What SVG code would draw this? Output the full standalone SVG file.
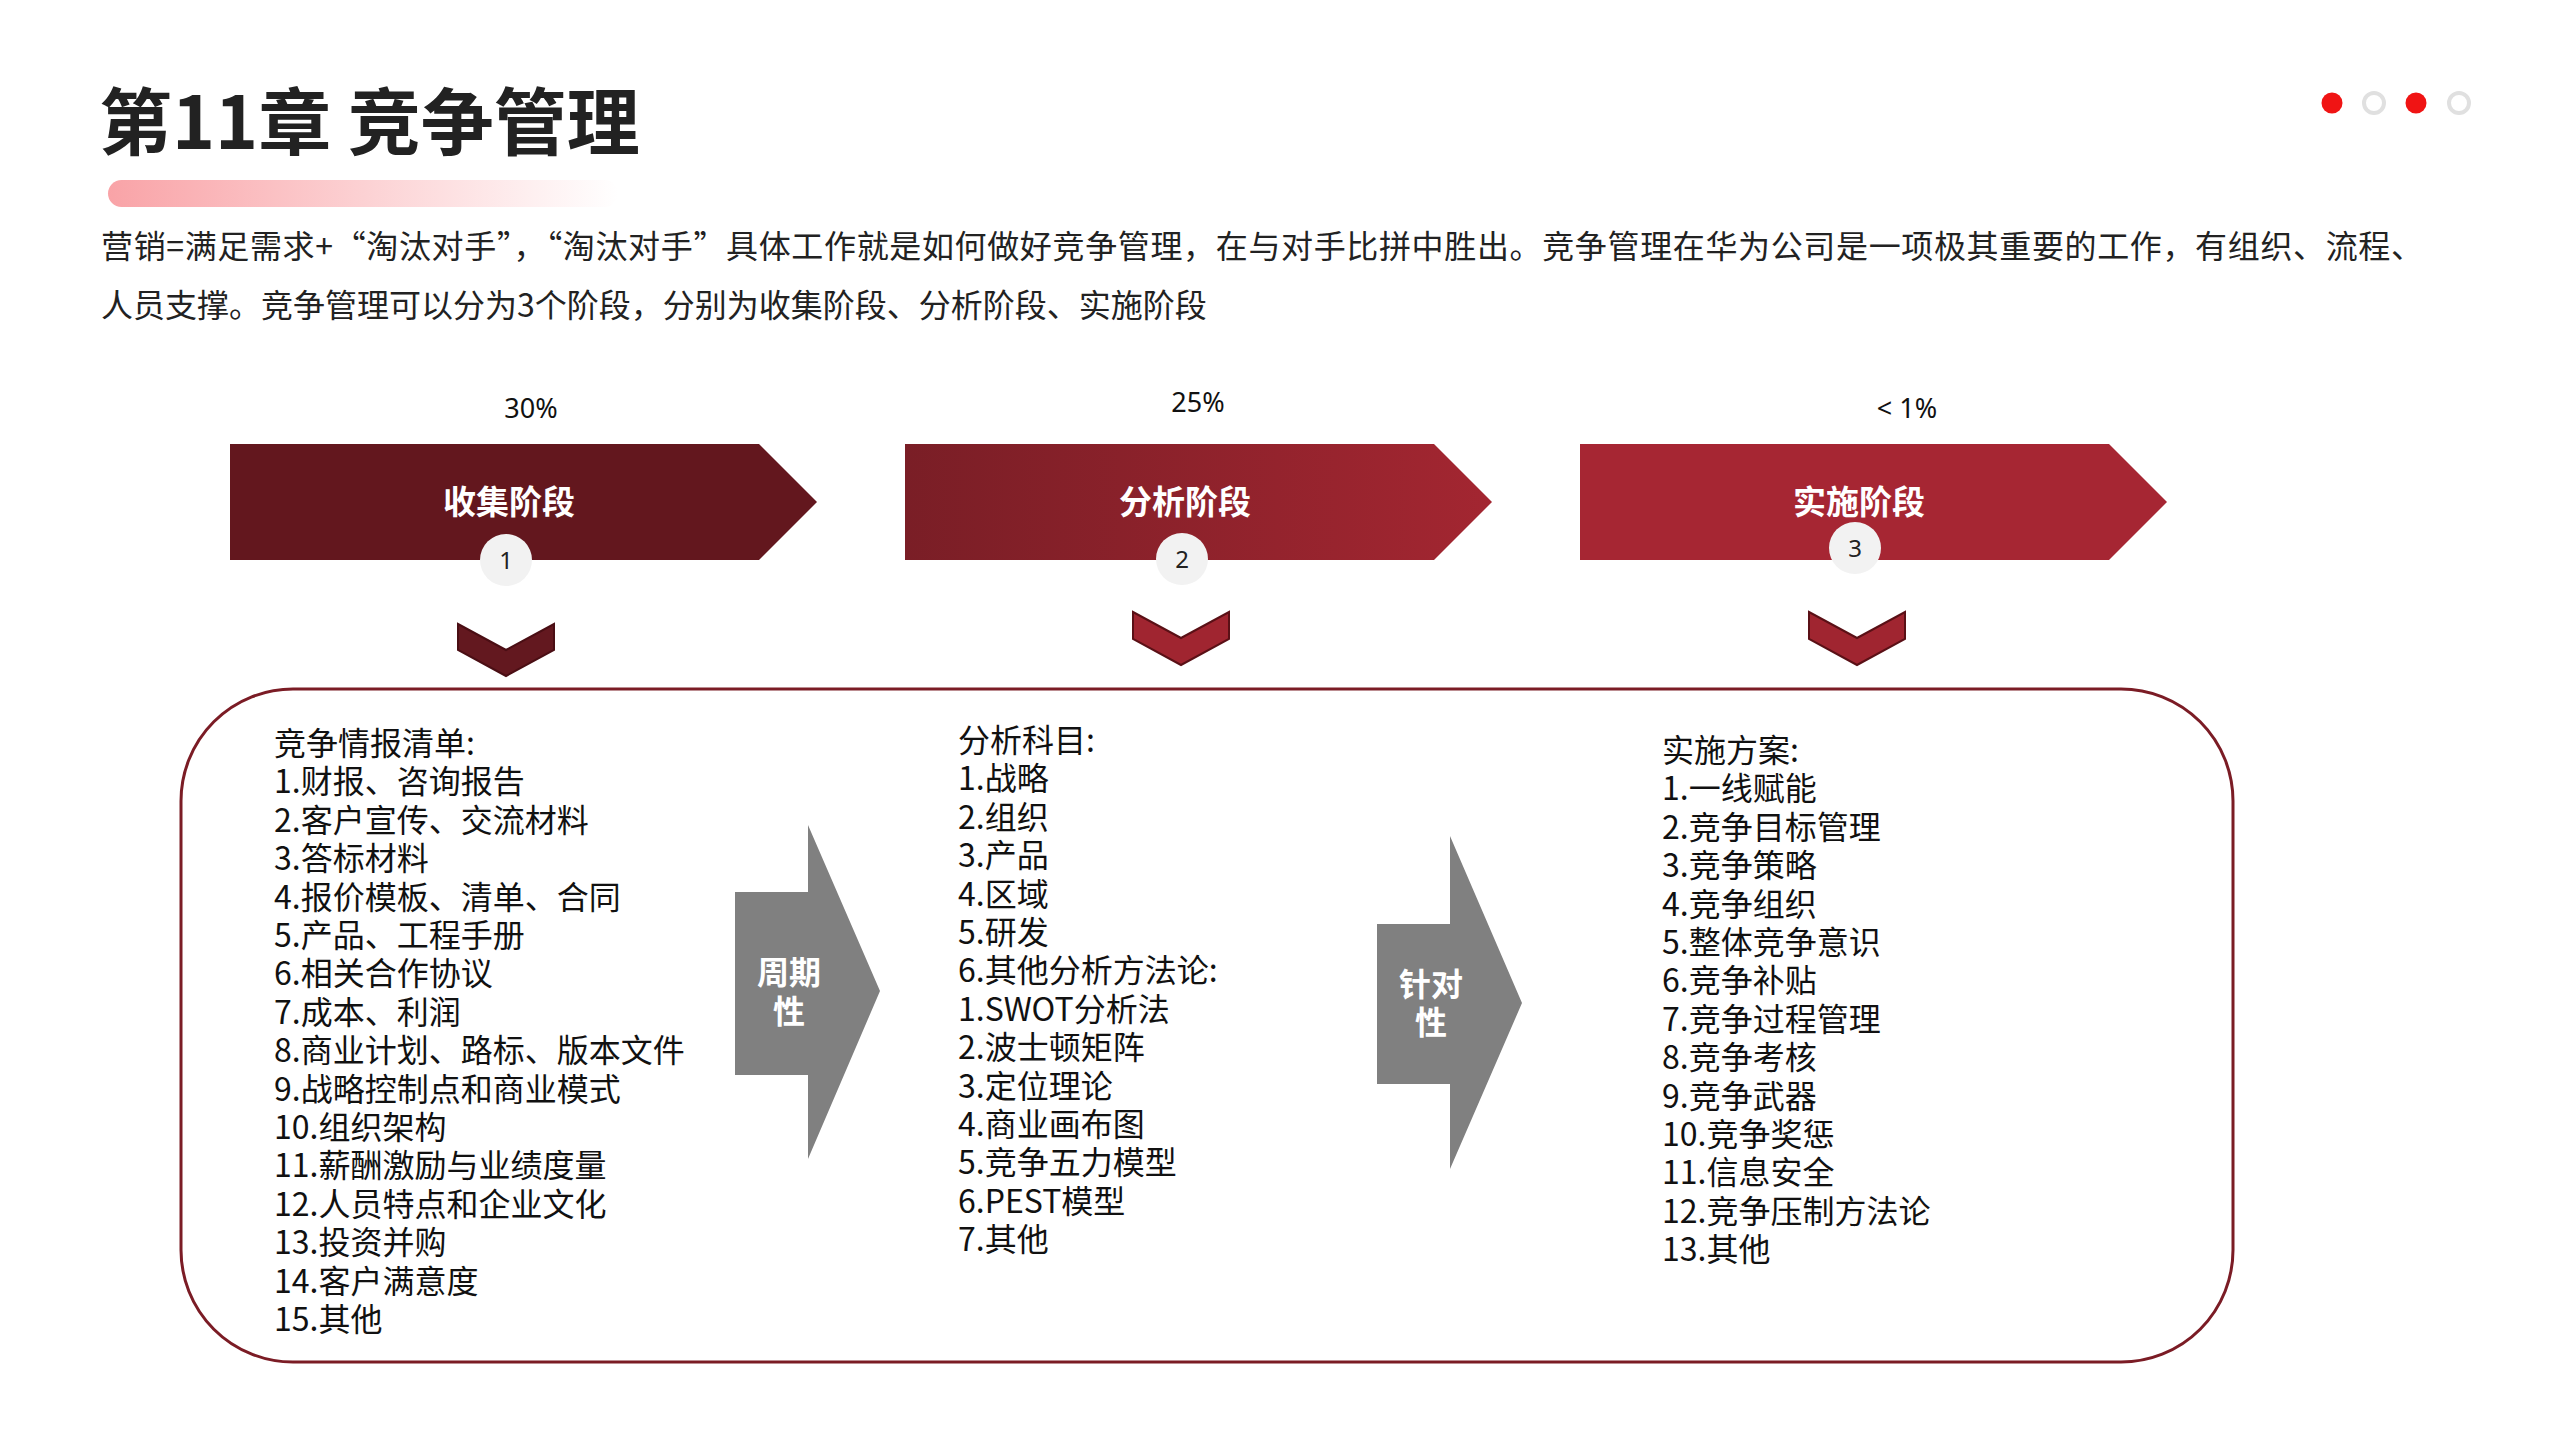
<svg xmlns="http://www.w3.org/2000/svg" width="2560" height="1440" viewBox="0 0 2560 1440">
<defs>
<linearGradient id="barGrad" x1="0" y1="0" x2="1" y2="0">
<stop offset="0" stop-color="#f9a3a7"/>
<stop offset="1" stop-color="#ffffff"/>
</linearGradient>
<linearGradient id="arrow2Grad" x1="0" y1="0" x2="1" y2="0">
<stop offset="0" stop-color="#7a1e26"/>
<stop offset="1" stop-color="#a32631"/>
</linearGradient>
<style>
.cjk{font-family:"Noto Sans CJK SC","Noto Sans",sans-serif;}
.title{font-size:73px;font-weight:700;fill:#222222;}
.sub{font-size:32px;fill:#222222;}
.pct{font-family:"Noto Sans","Noto Sans CJK SC",sans-serif;font-size:27px;fill:#111111;text-anchor:middle;}
.stage{font-size:33px;font-weight:700;fill:#ffffff;text-anchor:middle;}
.num{font-family:"Noto Sans","Noto Sans CJK SC",sans-serif;font-size:24px;fill:#222222;text-anchor:middle;}
.badge{fill:#f2f2f2;}
.list{font-size:32px;fill:#111111;}
.gray{fill:#808080;}
.gtxt{font-size:32px;font-weight:700;fill:#ffffff;text-anchor:middle;}
.chev1{fill:#63181f;stroke:#4a0e14;stroke-width:2;}
.chev2{fill:#a02530;stroke:#5a1016;stroke-width:2;}
.dotOn{fill:#f01414;}
.dotOff{fill:none;stroke:#e0e0e0;stroke-width:4;}
</style>
</defs>
<rect width="2560" height="1440" fill="#ffffff"/>

<g id="header">
<text class="cjk title" x="99" y="149">第11章 竞争管理</text>
<rect x="108" y="180" width="510" height="27" rx="13.5" fill="url(#barGrad)"/>
<circle class="dotOn" cx="2332" cy="103" r="10.5"/>
<circle class="dotOff" cx="2374" cy="103" r="10"/>
<circle class="dotOn" cx="2416" cy="103" r="10.5"/>
<circle class="dotOff" cx="2459" cy="103" r="10"/>
<text class="cjk sub" x="101" y="258" textLength="2322" lengthAdjust="spacing">营销=满足需求+“淘汰对手”，“淘汰对手”具体工作就是如何做好竞争管理，在与对手比拼中胜出。竞争管理在华为公司是一项极其重要的工作，有组织、流程、</text>
<text class="cjk sub" x="101" y="317">人员支撑。竞争管理可以分为3个阶段，分别为收集阶段、分析阶段、实施阶段</text>
</g>

<g id="stage1">
<text class="pct" x="531" y="418">30%</text>
<polygon points="230,444 759,444 817,502 759,560 230,560" fill="#63171e"/>
<text class="cjk stage" x="509" y="514">收集阶段</text>
<circle class="badge" cx="506" cy="560" r="26"/>
<text class="num" x="506" y="569">1</text>
</g>

<g id="stage2">
<text class="pct" x="1198" y="412">25%</text>
<polygon points="905,444 1434,444 1492,502 1434,560 905,560" fill="url(#arrow2Grad)"/>
<text class="cjk stage" x="1185" y="514">分析阶段</text>
<circle class="badge" cx="1182" cy="559" r="26"/>
<text class="num" x="1182" y="568">2</text>
</g>

<g id="stage3">
<text class="pct" x="1907" y="418">&lt; 1%</text>
<polygon points="1580,444 2109,444 2167,502 2109,560 1580,560" fill="#a62633"/>
<text class="cjk stage" x="1859" y="514">实施阶段</text>
<circle class="badge" cx="1855" cy="548" r="26"/>
<text class="num" x="1855" y="557">3</text>
</g>

<g id="content-box">
<rect x="181" y="689" width="2052" height="673" rx="112" ry="112" fill="none" stroke="#7b1c25" stroke-width="3"/>
</g>

<g id="list-collect">
<text class="cjk list" x="274" y="755">
<tspan x="274" dy="0">竞争情报清单:</tspan>
<tspan x="274" dy="38.4">1.财报、咨询报告</tspan>
<tspan x="274" dy="38.4">2.客户宣传、交流材料</tspan>
<tspan x="274" dy="38.4">3.答标材料</tspan>
<tspan x="274" dy="38.4">4.报价模板、清单、合同</tspan>
<tspan x="274" dy="38.4">5.产品、工程手册</tspan>
<tspan x="274" dy="38.4">6.相关合作协议</tspan>
<tspan x="274" dy="38.4">7.成本、利润</tspan>
<tspan x="274" dy="38.4">8.商业计划、路标、版本文件</tspan>
<tspan x="274" dy="38.4">9.战略控制点和商业模式</tspan>
<tspan x="274" dy="38.4">10.组织架构</tspan>
<tspan x="274" dy="38.4">11.薪酬激励与业绩度量</tspan>
<tspan x="274" dy="38.4">12.人员特点和企业文化</tspan>
<tspan x="274" dy="38.4">13.投资并购</tspan>
<tspan x="274" dy="38.4">14.客户满意度</tspan>
<tspan x="274" dy="38.4">15.其他</tspan>
</text>
</g>

<g id="list-analyze">
<text class="cjk list" x="958" y="752">
<tspan x="958" dy="0">分析科目:</tspan>
<tspan x="958" dy="38.4">1.战略</tspan>
<tspan x="958" dy="38.4">2.组织</tspan>
<tspan x="958" dy="38.4">3.产品</tspan>
<tspan x="958" dy="38.4">4.区域</tspan>
<tspan x="958" dy="38.4">5.研发</tspan>
<tspan x="958" dy="38.4">6.其他分析方法论:</tspan>
<tspan x="958" dy="38.4">1.SWOT分析法</tspan>
<tspan x="958" dy="38.4">2.波士顿矩阵</tspan>
<tspan x="958" dy="38.4">3.定位理论</tspan>
<tspan x="958" dy="38.4">4.商业画布图</tspan>
<tspan x="958" dy="38.4">5.竞争五力模型</tspan>
<tspan x="958" dy="38.4">6.PEST模型</tspan>
<tspan x="958" dy="38.4">7.其他</tspan>
</text>
</g>

<g id="list-implement">
<text class="cjk list" x="1662" y="762">
<tspan x="1662" dy="0">实施方案:</tspan>
<tspan x="1662" dy="38.4">1.一线赋能</tspan>
<tspan x="1662" dy="38.4">2.竞争目标管理</tspan>
<tspan x="1662" dy="38.4">3.竞争策略</tspan>
<tspan x="1662" dy="38.4">4.竞争组织</tspan>
<tspan x="1662" dy="38.4">5.整体竞争意识</tspan>
<tspan x="1662" dy="38.4">6.竞争补贴</tspan>
<tspan x="1662" dy="38.4">7.竞争过程管理</tspan>
<tspan x="1662" dy="38.4">8.竞争考核</tspan>
<tspan x="1662" dy="38.4">9.竞争武器</tspan>
<tspan x="1662" dy="38.4">10.竞争奖惩</tspan>
<tspan x="1662" dy="38.4">11.信息安全</tspan>
<tspan x="1662" dy="38.4">12.竞争压制方法论</tspan>
<tspan x="1662" dy="38.4">13.其他</tspan>
</text>
</g>

<g id="connectors">
<polygon class="chev1" points="458,624 506,650 554,624 554,650 506,676 458,650"/>
<polygon class="chev2" points="1133,612 1181,638 1229,612 1229,639 1181,665 1133,639"/>
<polygon class="chev2" points="1809,612 1857,638 1905,612 1905,639 1857,665 1809,639"/>
<g id="arrow-periodic">
<polygon class="gray" points="735,892 808,892 808,825 880,991 808,1159 808,1075 735,1075"/>
<text class="cjk gtxt" x="789" y="984">周期</text>
<text class="cjk gtxt" x="789" y="1023">性</text>
</g>
<g id="arrow-targeted">
<polygon class="gray" points="1377,924 1450,924 1450,836 1522,1003 1450,1169 1450,1084 1377,1084"/>
<text class="cjk gtxt" x="1431" y="996">针对</text>
<text class="cjk gtxt" x="1431" y="1034">性</text>
</g>
</g>
</svg>
